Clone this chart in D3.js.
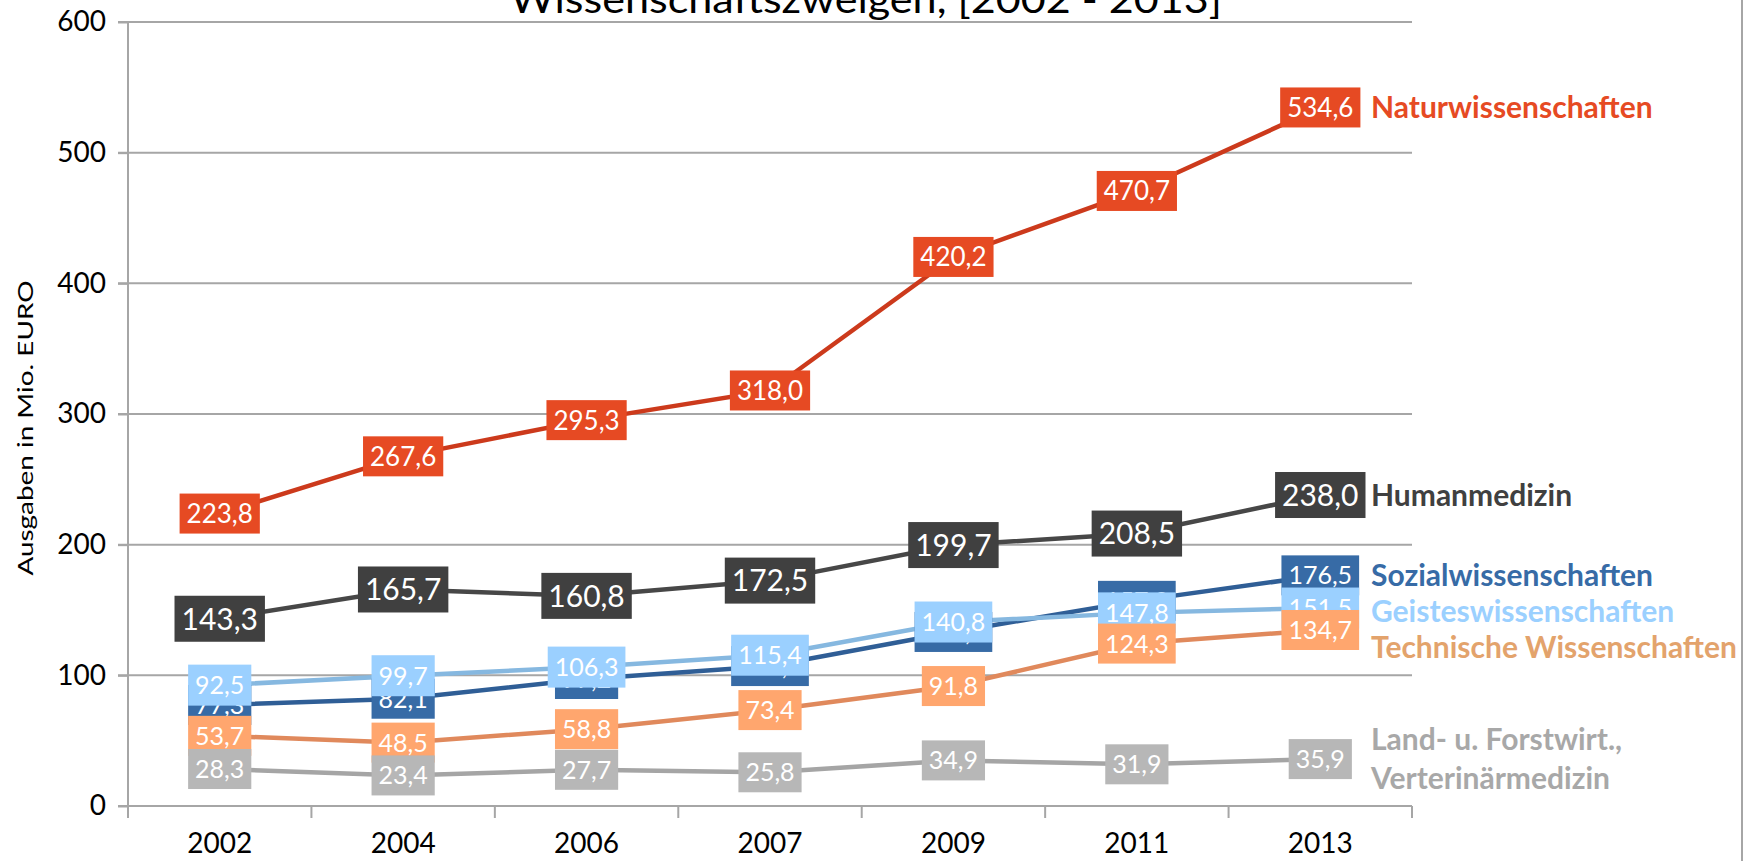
<!DOCTYPE html>
<html>
<head>
<meta charset="utf-8">
<script src="https://cdn.jsdelivr.net/npm/d3@7/dist/d3.min.js"></script>
<style>
  body { margin: 0; background: #fff; }
  svg { display: block; font-family: Lato, "Open Sans", sans-serif; }
</style>
</head>
<body>
<div id="chart"></div>
<script>
// data
var years = ["2002", "2004", "2006", "2007", "2009", "2011", "2013"];
var yTicks = [0, 100, 200, 300, 400, 500, 600];

var natur = [223.8, 267.6, 295.3, 318.0, 420.2, 470.7, 534.6];
var human = [143.3, 165.7, 160.8, 172.5, 199.7, 208.5, 238.0];
var sozial = [77.3, 82.1, 97.2, 107.1, 133.2, 157.0, 176.5];
var geistes = [92.5, 99.7, 106.3, 115.4, 140.8, 147.8, 151.5];
var technik = [53.7, 48.5, 58.8, 73.4, 91.8, 124.3, 134.7];
var land = [28.3, 23.4, 27.7, 25.8, 34.9, 31.9, 35.9];

var seriesNames = [["Naturwissenschaften"], ["Humanmedizin"], ["Sozialwissenschaften"],
	["Geisteswissenschaften"], ["Technische Wissenschaften"], ["Land- u. Forstwirt.,", "Verterinärmedizin"]];
var seriesValues = [natur, human, sozial, geistes, technik, land];

// styles per series
var boxColors = ["#e64a23", "#404040", "#376ba6", "#9bd0ff", "#ffa66e", "#b7b7b7"];
var lineColors = ["#cc3a1c", "#474747", "#2f5e96", "#86b8e0", "#e0895c", "#a5a5a5"];
var nameColors = ["#e64a23", "#404040", "#376ba6", "#9bd0ff", "#e3a36c", "#a8a8a8"];
var labelSizes = [26, 30, 25, 25, 25, 25];
var boxHeights = [40, 46, 40, 41, 40, 40];

var width = 1746, height = 861;
// plot area edges (named so they do not clash with window.top)
var plotLeft = 128, plotRight = 1412, plotTop = 22, plotBottom = 806;

var svg = d3.select("#chart")
	.append("svg")
	.attr("width", width)
	.attr("height", height);

var x = d3.scaleBand().domain(years).range([plotLeft, plotRight]);
var y = d3.scaleLinear().domain([0, 600]).range([plotBottom, plotTop]);

// outer border on the right
svg.append("line")
	.attr("x1", 1742).attr("x2", 1742)
	.attr("y1", 0).attr("y2", height)
	.style("stroke", "#a6a6a6")
	.style("stroke-width", 2);

// title (only its lower line is in the frame)
svg.append("text")
	.attr("x", 866)
	.attr("y", 13)
	.attr("text-anchor", "middle")
	.attr("textLength", 712)
	.attr("lengthAdjust", "spacingAndGlyphs")
	.style("font-size", "38px")
	.style("fill", "#000")
	.text("Wissenschaftszweigen, [2002 - 2013]");

// gridlines
svg.append("g")
	.selectAll("line")
	.data(yTicks)
	.enter().append("line")
	.attr("x1", plotLeft - 10)
	.attr("x2", plotRight)
	.attr("y1", function (d) { return y(d); })
	.attr("y2", function (d) { return y(d); })
	.style("stroke", "#a6a6a6")
	.style("stroke-width", 2);

// y axis
var yAxis = svg.append("g")
	.attr("transform", "translate(" + plotLeft + ",0)")
	.call(d3.axisLeft(y).tickValues(yTicks).tickSize(10).tickPadding(12));
yAxis.select(".domain").remove();
yAxis.selectAll("line").style("stroke", "#a6a6a6").style("stroke-width", 2);
yAxis.selectAll("text").style("font-size", "28px").style("fill", "#000")
	.style("font-family", "Lato, sans-serif");
yAxis.append("line")
	.attr("x1", 0).attr("x2", 0)
	.attr("y1", plotTop).attr("y2", plotBottom + 12)
	.style("stroke", "#a6a6a6")
	.style("stroke-width", 2);

// x axis ticks at category borders
var bounds = years.map(function (d) { return x(d); }).concat([plotRight]);
svg.append("g")
	.selectAll("line")
	.data(bounds)
	.enter().append("line")
	.attr("x1", function (d) { return d; })
	.attr("x2", function (d) { return d; })
	.attr("y1", plotBottom)
	.attr("y2", plotBottom + 12)
	.style("stroke", "#a6a6a6")
	.style("stroke-width", 2);

svg.append("g")
	.selectAll("text")
	.data(years)
	.enter().append("text")
	.attr("x", function (d) { return x(d) + x.bandwidth() / 2; })
	.attr("y", 853)
	.attr("text-anchor", "middle")
	.style("font-size", "28px")
	.text(function (d) { return d; });

// y axis title
svg.append("text")
	.attr("transform", "translate(33,428) rotate(-90)")
	.attr("text-anchor", "middle")
	.attr("textLength", 295)
	.attr("lengthAdjust", "spacingAndGlyphs")
	.style("font-size", "22px")
	.text("Ausgaben in Mio. EURO");

var line = d3.line()
	.x(function (d, i) { return x(years[i]) + x.bandwidth() / 2; })
	.y(function (d) { return y(d); });

// all lines first
seriesValues.forEach(function (vals, s) {
	svg.append("path")
		.datum(vals)
		.attr("d", line)
		.style("fill", "none")
		.style("stroke", lineColors[s])
		.style("stroke-width", 4.5);
});

// value boxes on top
function fmt(v) { return v.toFixed(1).replace(".", ","); }

seriesValues.forEach(function (vals, s) {
	var fs = labelSizes[s];
	var g = svg.append("g");
	vals.forEach(function (v, i) {
		var cx = x(years[i]) + x.bandwidth() / 2;
		var cy = y(v);
		var rect = g.append("rect").style("fill", boxColors[s]);
		var t = g.append("text")
			.attr("x", cx)
			.attr("y", cy)
			.attr("dy", "0.36em")
			.attr("text-anchor", "middle")
			.style("font-size", fs + "px")
			.style("fill", "#fff")
			.text(fmt(v));
		var w = t.node().getComputedTextLength() + 14;
		var h = boxHeights[s];
		rect.attr("x", cx - w / 2).attr("y", cy - h / 2)
			.attr("width", w).attr("height", h);
	});
});

// series names at the right end, pushed apart when they collide
var lastY = -100;
seriesValues.forEach(function (vals, s) {
	var lines = seriesNames[s];
	var cy = y(vals[vals.length - 1]);
	var half = (lines.length - 1) * 39 / 2;
	if (cy - half < lastY + 36) cy = lastY + 36 + half;
	lastY = cy + half;
	lines.forEach(function (txt, k) {
		svg.append("text")
			.attr("x", 1371)
			.attr("y", cy - half + k * 39)
			.attr("dy", "0.36em")
			.style("font-size", "30px")
			.style("font-weight", "bold")
			.style("fill", nameColors[s])
			.text(txt);
	});
});
</script>
</body>
</html>
